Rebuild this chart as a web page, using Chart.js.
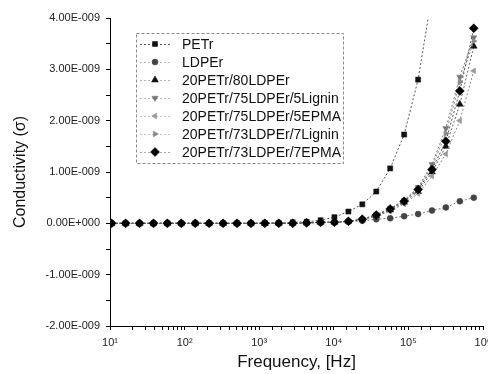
<!DOCTYPE html>
<html>
<head>
<meta charset="utf-8">
<script src="https://cdn.jsdelivr.net/npm/chart.js@4.4.1/dist/chart.umd.min.js"></script>
<style>
  html, body { margin: 0; padding: 0; background: #fff; }
  #wrap { width: 488px; height: 374px; }
</style>
</head>
<body>
<div id="wrap"><canvas id="condChart" width="488" height="374"></canvas></div>
<script>
// frequencies (Hz)
const freqs = [10.5, 16.2, 24.9, 38.3, 58.8, 90.3, 139, 213, 328, 504, 775, 1190, 1830, 2810,
  4320, 6650, 10200, 15700, 24100, 37100, 57000, 87700, 135000, 207000, 318000, 489000, 752000];

// conductivity values, in units of 1E-009
const petr = [0, 0, 0, 0, 0, 0, 0, 0, 0, 0, 0, 0.01, 0.01, 0.02,
  0.03, 0.06, 0.12, 0.23, 0.37, 0.62, 1.07, 1.73, 2.80, 4.45, null, null, null];
const ldper = [0, 0, 0, 0, 0, 0, 0, 0, 0, 0, 0, 0, 0, 0,
  0, 0.01, 0.02, 0.03, 0.05, 0.08, 0.10, 0.14, 0.18, 0.25, 0.31, 0.43, 0.50];
const blend80 = [0, 0, 0, 0, 0, 0, 0, 0, 0, 0, 0, 0, 0, 0,
  0.01, 0.02, 0.02, 0.04, 0.08, 0.15, 0.26, 0.41, 0.62, 1.00, 1.50, 2.32, 3.45];
const lignin5 = [0, 0, 0, 0, 0, 0, 0, 0, 0, 0, 0, 0, 0, 0,
  0.01, 0.02, 0.02, 0.04, 0.08, 0.17, 0.29, 0.45, 0.70, 1.15, 1.85, 2.85, 3.62];
const epma5 = [0, 0, 0, 0, 0, 0, 0, 0, 0, 0, 0, 0, 0, 0,
  0.01, 0.02, 0.02, 0.04, 0.07, 0.14, 0.24, 0.38, 0.58, 0.92, 1.35, 2.00, 2.97];
const lignin7 = [0, 0, 0, 0, 0, 0, 0, 0, 0, 0, 0, 0, 0, 0,
  0.01, 0.02, 0.02, 0.04, 0.08, 0.16, 0.28, 0.44, 0.68, 1.10, 1.75, 2.75, 3.55];
const epma7 = [0, 0, 0, 0, 0, 0, 0, 0, 0, 0, 0, 0, 0, 0,
  0.01, 0.02, 0.02, 0.04, 0.08, 0.16, 0.28, 0.43, 0.66, 1.05, 1.60, 2.58, 3.80];

const seriesNames = ["PETr", "LDPEr", "20PETr/80LDPEr", "20PETr/75LDPEr/5Lignin",
  "20PETr/75LDPEr/5EPMA", "20PETr/73LDPEr/7Lignin", "20PETr/73LDPEr/7EPMA"];
const seriesValues = [petr, ldper, blend80, lignin5, epma5, lignin7, epma7];

const yTicks = [-2, -1, 0, 1, 2, 3, 4];
const xTickExps = [1, 2, 3, 4, 5, 6];

const FONT = "'Liberation Sans', Arial, sans-serif";
const sup = { "1": "\u00B9", "2": "\u00B2", "3": "\u00B3", "4": "\u2074", "5": "\u2075", "6": "\u2076" };

const styles = [
  { pointStyle: "rect", radius: 3.6, rotation: 0, fill: "#111", line: "#555" },
  { pointStyle: "circle", radius: 3, rotation: 0, fill: "#444", line: "#777" },
  { pointStyle: "triangle", radius: 4, rotation: 0, fill: "#111", line: "#666" },
  { pointStyle: "triangle", radius: 3.6, rotation: 180, fill: "#777", line: "#777" },
  { pointStyle: "triangle", radius: 3.4, rotation: 270, fill: "#999", line: "#888" },
  { pointStyle: "triangle", radius: 3.4, rotation: 90, fill: "#888", line: "#888" },
  { pointStyle: "rectRot", radius: 4.5, rotation: 0, fill: "#000", line: "#555" }
];

function sciLabel(v) {
  if (Math.abs(v) < 1e-9) return "0.00E+000";
  return v.toFixed(2) + "E-009";
}

const datasets = seriesNames.map((name, i) => ({
  label: name,
  data: freqs.map((f, j) => ({ x: f, y: seriesValues[i][j] })),
  borderColor: styles[i].line,
  borderWidth: 1,
  borderDash: [2, 2],
  pointStyle: styles[i].pointStyle,
  pointRotation: styles[i].rotation,
  pointRadius: styles[i].radius,
  pointBackgroundColor: styles[i].fill,
  pointBorderColor: styles[i].fill,
  pointBorderWidth: 0.5,
  tension: 0,
  spanGaps: false
}));
// draw PETr last-ish so squares stay visible, 7EPMA on top of the cluster
datasets.forEach((d, i) => { d.order = 7 - i; });

const legendBox = {
  id: "legendBox",
  afterDraw(chart) {
    const ctx = chart.ctx;
    const x0 = 136, y0 = 33, w = 207, h = 130;
    ctx.save();
    ctx.strokeStyle = "#888";
    ctx.lineWidth = 1;
    ctx.setLineDash([3, 2]);
    ctx.strokeRect(x0 + 0.5, y0 + 0.5, w, h);
    ctx.font = "14px " + FONT;
    ctx.textBaseline = "middle";
    seriesNames.forEach((name, i) => {
      const y = 44 + i * 18;
      const s = styles[i];
      ctx.setLineDash([2, 2]);
      ctx.strokeStyle = s.line;
      ctx.beginPath();
      ctx.moveTo(140, y + 0.5);
      ctx.lineTo(172, y + 0.5);
      ctx.stroke();
      ctx.setLineDash([]);
      ctx.fillStyle = s.fill;
      ctx.strokeStyle = s.fill;
      ctx.lineWidth = 0.5;
      Chart.helpers.drawPoint(ctx, { pointStyle: s.pointStyle, rotation: s.rotation, radius: s.radius, borderWidth: 0.5 }, 155, y);
      ctx.fillStyle = "#111";
      ctx.fillText(name, 182, y + 1);
    });
    ctx.restore();
  }
};

new Chart(document.getElementById("condChart").getContext("2d"), {
  type: "line",
  data: { datasets },
  plugins: [legendBox],
  options: {
    responsive: false,
    animation: false,
    layout: { padding: { top: 18, right: 3, left: 0, bottom: 0 } },
    plugins: { legend: { display: false }, tooltip: { enabled: false } },
    scales: {
      x: {
        type: "logarithmic",
        min: 10,
        max: 1e6,
        grid: { drawOnChartArea: false, drawTicks: true, tickLength: 4, color: "#000" },
        border: { display: true, color: "#000", width: 1 },
        ticks: {
          autoSkip: false,
          maxRotation: 0,
          padding: 6,
          color: "#222",
          font: { family: FONT, size: 11 },
          callback: v => {
            const e = Math.log10(v);
            if (Math.abs(e - Math.round(e)) < 1e-6 && xTickExps.includes(Math.round(e))) {
              return "10" + sup[String(Math.round(e))];
            }
            return "";
          }
        },
        title: {
          display: true,
          text: "Frequency, [Hz]",
          color: "#111",
          font: { family: FONT, size: 17 },
          padding: { top: 0, bottom: 1 }
        },
        afterFit: s => { s.height = 48; s.paddingLeft = 0; s.paddingRight = 0; }
      },
      y: {
        min: -2,
        max: 4,
        grid: { drawOnChartArea: false, drawTicks: true, tickLength: 4, color: "#000" },
        border: { display: true, color: "#000", width: 1 },
        ticks: {
          stepSize: 0.5,
          padding: 6,
          color: "#222",
          font: { family: FONT, size: 11 },
          callback: v => yTicks.includes(v) ? sciLabel(v) : ""
        },
        title: {
          display: true,
          text: "Conductivity (\u03C3)",
          color: "#111",
          font: { family: FONT, size: 16 },
          padding: { top: 11, bottom: 0 }
        },
        afterFit: s => { s.width = 110; s.paddingTop = 0; s.paddingBottom = 0; }
      }
    }
  }
});
</script>
</body>
</html>
